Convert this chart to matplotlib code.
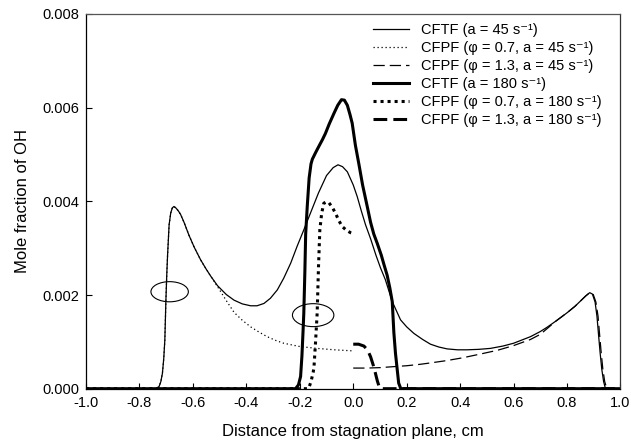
import matplotlib
matplotlib.use("Agg")
import matplotlib.pyplot as plt
from matplotlib.patches import Ellipse
from matplotlib.ticker import FormatStrFormatter, MultipleLocator

plt.rcParams['font.family'] = ['Liberation Sans', 'DejaVu Sans']

# ---- data (mole fraction in units of 1e-3) ----
cftf45_x = [-1.0, -0.74, -0.727, -0.72, -0.714, -0.709, -0.705, -0.701, -0.698, -0.695, -0.689,
            -0.683, -0.677, -0.671, -0.664, -0.655, -0.646, -0.633, -0.615, -0.595, -0.571,
            -0.550, -0.533, -0.508, -0.475, -0.446, -0.415, -0.384, -0.360, -0.334, -0.310,
            -0.284, -0.260, -0.234, -0.210, -0.185, -0.160, -0.130, -0.100, -0.075, -0.057,
            -0.040, -0.022, 0.000, 0.015, 0.030, 0.046, 0.065, 0.085, 0.102, 0.120, 0.146,
            0.177, 0.200, 0.227, 0.260, 0.289, 0.320, 0.351, 0.390, 0.426, 0.470, 0.513,
            0.560, 0.600, 0.663, 0.700, 0.725, 0.760, 0.800, 0.830, 0.850, 0.870, 0.885,
            0.895, 0.905, 0.912, 0.918, 0.924, 0.930, 0.937, 0.943, 0.950, 1.0]
cftf45_y = [0, 0, 0.04, 0.15, 0.33, 0.65, 1.04, 1.89, 2.40, 2.82, 3.50,
            3.75, 3.86, 3.89, 3.86, 3.80, 3.72, 3.55, 3.28, 3.02, 2.75,
            2.55, 2.40, 2.20, 2.01, 1.89, 1.81, 1.77, 1.77, 1.82, 1.93,
            2.11, 2.36, 2.68, 3.04, 3.39, 3.75, 4.18, 4.55, 4.72, 4.78,
            4.74, 4.63, 4.35, 4.10, 3.80, 3.50, 3.20, 2.85, 2.58, 2.33, 1.86,
            1.47, 1.32, 1.18, 1.05, 0.95, 0.89, 0.85, 0.83, 0.83, 0.84, 0.86,
            0.91, 0.97, 1.11, 1.22, 1.31, 1.45, 1.62, 1.76, 1.87, 1.98, 2.05,
            2.02, 1.85, 1.55, 1.15, 0.76, 0.42, 0.15, 0.02, 0, 0]

cfpf07_45_x = [-1.0, -0.74, -0.727, -0.72, -0.714, -0.709, -0.705, -0.701, -0.698, -0.695, -0.689,
               -0.683, -0.677, -0.671, -0.664, -0.655, -0.646, -0.633, -0.615, -0.595, -0.571,
               -0.550, -0.533, -0.508, -0.475, -0.446, -0.415, -0.384, -0.350, -0.322, -0.290,
               -0.260, -0.200, -0.135, -0.070, -0.010, 0.0]
cfpf07_45_y = [0, 0, 0.04, 0.15, 0.33, 0.65, 1.04, 1.89, 2.40, 2.82, 3.50,
               3.75, 3.86, 3.89, 3.86, 3.80, 3.72, 3.55, 3.28, 3.02, 2.75,
               2.55, 2.40, 2.18, 1.88, 1.63, 1.46, 1.32, 1.20, 1.11, 1.03,
               0.97, 0.90, 0.86, 0.83, 0.81, 0.81]

cfpf13_45_x = [0.0, 0.050, 0.102, 0.150, 0.200, 0.250, 0.289, 0.350, 0.410, 0.476, 0.540,
               0.600, 0.663, 0.700, 0.725, 0.760, 0.800, 0.830, 0.850, 0.870, 0.885, 0.897,
               0.908, 0.916, 0.922, 0.928, 0.934, 0.941, 0.948, 0.955, 1.0]
cfpf13_45_y = [0.44, 0.44, 0.45, 0.47, 0.49, 0.52, 0.55, 0.60, 0.66, 0.74, 0.82,
               0.92, 1.05, 1.16, 1.28, 1.45, 1.62, 1.76, 1.87, 1.98, 2.05, 2.03,
               1.85, 1.55, 1.15, 0.76, 0.42, 0.15, 0.02, 0, 0]

cftf180_x = [-1.0, -0.216, -0.205, -0.197, -0.192, -0.188, -0.185, -0.181, -0.178, -0.172, -0.165,
             -0.158, -0.153, -0.140, -0.129, -0.115, -0.104, -0.090, -0.072, -0.058, -0.044,
             -0.033, -0.022, -0.012, -0.004, 0.008, 0.021, 0.035, 0.052, 0.065, 0.077, 0.090,
             0.105, 0.115, 0.127, 0.137, 0.146, 0.152, 0.158, 0.164, 0.170, 0.178, 1.0]
cftf180_y = [0, 0, 0.08, 0.26, 0.70, 1.20, 1.61, 2.50, 3.30, 3.90, 4.50,
             4.80, 4.90, 5.05, 5.17, 5.32, 5.45, 5.65, 5.88, 6.05, 6.17,
             6.16, 6.05, 5.85, 5.67, 5.20, 4.80, 4.35, 3.90, 3.55, 3.30, 3.10,
             2.85, 2.65, 2.42, 2.15, 1.86, 1.20, 0.76, 0.44, 0.12, 0, 0]

cfpf07_180_x = [-1.0, -0.172, -0.166, -0.158, -0.150, -0.147, -0.141, -0.135, -0.130, -0.125,
                -0.118, -0.110, -0.100, -0.091, -0.078, -0.066, -0.053, -0.041, -0.025, -0.010, 0.0]
cfpf07_180_y = [0, 0, 0.02, 0.15, 0.35, 0.45, 1.00, 1.61, 2.60, 3.39,
                3.75, 3.96, 3.99, 3.97, 3.87, 3.74, 3.58, 3.46, 3.38, 3.33, 3.31]

cfpf13_180_x = [0.0, 0.020, 0.040, 0.050, 0.058, 0.065, 0.075, 0.083, 0.090, 0.096, 0.102, 1.0]
cfpf13_180_y = [0.95, 0.95, 0.91, 0.85, 0.77, 0.68, 0.50, 0.33, 0.17, 0.06, 0, 0]

labels = ['CFTF (a = 45 s\u207b\u00b9)',
          'CFPF (φ = 0.7, a = 45 s\u207b\u00b9)',
          'CFPF (φ = 1.3, a = 45 s\u207b\u00b9)',
          'CFTF (a = 180 s\u207b\u00b9)',
          'CFPF (φ = 0.7, a = 180 s\u207b\u00b9)',
          'CFPF (φ = 1.3, a = 180 s\u207b\u00b9)']

# annotation ellipses (center x, center y [1e-3], width, height [1e-3])
ellipses = [(-0.687, 2.07, 0.14, 0.43), (-0.150, 1.57, 0.155, 0.49)]

S = 1e-3
fig = plt.figure(figsize=(6.31, 4.48), dpi=100)
ax = fig.add_axes([0.1363, 0.1324, 0.847, 0.8364])

ax.plot(cftf45_x, [v * S for v in cftf45_y], color='black', lw=0.9, label=labels[0])
ax.plot(cfpf07_45_x, [v * S for v in cfpf07_45_y], color='black', lw=0.9,
        linestyle=(0, (1, 2.2)), label=labels[1])
ax.plot(cfpf13_45_x, [v * S for v in cfpf13_45_y], color='black', lw=0.9,
        linestyle=(0, (9, 4)), label=labels[2])
ax.plot(cftf180_x, [v * S for v in cftf180_y], color='black', lw=2.2, label=labels[3])
ax.plot(cfpf07_180_x, [v * S for v in cfpf07_180_y], color='black', lw=2.2,
        linestyle=(0, (1, 1.3)), label=labels[4])
ax.plot(cfpf13_180_x, [v * S for v in cfpf13_180_y], color='black', lw=2.2,
        linestyle=(0, (4.5, 2)), label=labels[5])

for cx, cy, w, h in ellipses:
    ax.add_patch(Ellipse((cx, cy * S), w, h * S, fill=False, edgecolor='black', lw=0.8))

ax.set_xlim(-1.0, 1.0)
ax.set_ylim(0, 0.008)
ax.xaxis.set_major_locator(MultipleLocator(0.2))
ax.yaxis.set_major_locator(MultipleLocator(0.002))
ax.xaxis.set_major_formatter(FormatStrFormatter('%.1f'))
ax.yaxis.set_major_formatter(FormatStrFormatter('%.3f'))
ax.tick_params(direction='in', length=4, width=0.8, labelsize=10.5, pad=5)
for sp in ax.spines.values():
    sp.set_linewidth(0.9)
ax.spines['top'].set_color('#555555')
ax.spines['right'].set_color('#333333')

ax.set_xlabel('Distance from stagnation plane, cm', fontsize=12, labelpad=10)
ax.set_ylabel('Mole fraction of OH', fontsize=12, labelpad=9)

leg = ax.legend(loc='upper left', bbox_to_anchor=(373 / 631, 1 - 23 / 448),
                bbox_transform=fig.transFigure, frameon=False, fontsize=10.5,
                handlelength=2.5, handletextpad=0.8, labelspacing=0.27,
                borderpad=0, borderaxespad=0)

fig.savefig('out.png', dpi=100)
